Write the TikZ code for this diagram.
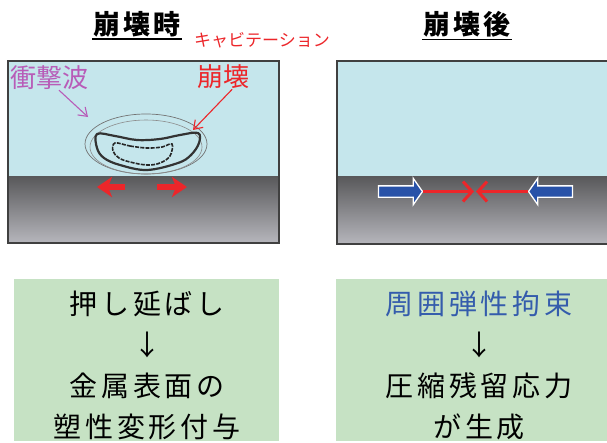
\documentclass[tikz,border=0pt]{standalone}
\usepackage{fontspec}
\setmainfont{Noto Sans CJK JP}
\newfontfamily\widejp[LetterSpace=14]{Noto Sans CJK JP}
\newfontfamily\titlejp[LetterSpace=12]{Noto Sans CJK JP}
\usetikzlibrary{positioning, arrows.meta, shapes.arrows}

\definecolor{water}{RGB}{197,230,236}
\definecolor{steeltop}{RGB}{88,88,90}
\definecolor{steelbot}{RGB}{182,182,188}
\definecolor{boxgreen}{RGB}{198,226,196}
\definecolor{hitred}{RGB}{236,38,42}
\definecolor{wavepurple}{RGB}{184,92,184}
\definecolor{pressblue}{RGB}{40,82,168}
\definecolor{textblue}{RGB}{52,92,172}

\begin{document}
\begin{tikzpicture}[x=1pt, y=-1pt,
    panel/.style={draw=black!75, line width=1.3pt},
    ground/.style={top color=steeltop, bottom color=steelbot},
    title/.style={font=\titlejp\bfseries\fontsize{27}{27}\selectfont, inner sep=1pt},
    summary/.style={align=center, font=\widejp\fontsize{28}{41}\selectfont},
    push/.style={-{Stealth[length=15pt, width=20pt, inset=4pt]}, line width=5.5pt, hitred},
    squeeze/.style={-{Straight Barb[length=9pt, width=20pt, line width=3pt]}, line width=3pt, hitred},
    block/.style={single arrow, fill=pressblue, draw=white, line width=1.3pt,
      minimum height=44pt, inner xsep=0pt, inner ysep=5pt,
      single arrow head extend=7.5pt, single arrow tip angle=110},
    note/.style={-{Straight Barb[length=8pt, width=11pt]}, line width=1.1pt}
  ]
  \useasboundingbox (0,0) rectangle (607,442);
  \clip (0,0) rectangle (607,442);

  % panel: during collapse
  \fill[water] (8,61) rectangle (279,176);
  \shade[ground] (8,176) rectangle (279,243);
  \draw[panel] (8,61) rectangle (279,243);

  % panel: after collapse
  \fill[water] (337,61) rectangle (620,176);
  \shade[ground] (337,176) rectangle (620,244);
  \draw[panel] (337,61) rectangle (620,244);

  % titles
  \node[title] (during) at (137,24) {崩壊時};
  \node[title] (after) at (467,24) {崩壊後};
  \draw[line width=1.4pt] ([yshift=-1pt]during.south west) -- ([yshift=-1pt]during.south east);
  \draw[line width=1.4pt] ([yshift=-1pt]after.south west) -- ([yshift=-1pt]after.south east);

  % shock wave rings
  \draw[black!55, line width=0.7pt] (146,144) ellipse [x radius=61, y radius=30];
  \draw[black!45, line width=0.6pt] (146,147) ellipse [x radius=56, y radius=27];

  % collapsing bubble
  \draw[black!80, line width=2.2pt, line join=round]
    plot[smooth cycle, tension=0.6] coordinates {(97,134) (115,136) (137,140) (160,139) (180,135) (198,133)
      (199,143) (191,155) (178,163) (147,170) (120,165) (104,158) (97,148)};
  \draw[black!85, line width=1.6pt, dash pattern=on 4pt off 1.2pt]
    plot[smooth cycle, tension=0.6] coordinates {(115,143) (130,146) (147,148) (162,147) (172,144)
      (170,156) (160,163) (147,165) (130,162) (119,158) (113,151)};

  % labels
  \node[text=hitred, font=\fontsize{17}{17}\selectfont, inner sep=0pt] (cav) at (262,40) {キャビテーション};
  \node[text=wavepurple, font=\fontsize{26}{26}\selectfont, inner sep=0pt] (wave) at (49,78) {衝撃波};
  \node[text=hitred, font=\fontsize{26}{26}\selectfont, inner sep=0pt] (burst) at (223,77) {崩壊};
  \coordinate (ring) at (88,117);
  \coordinate (rim) at (193,130);
  \draw[note, wavepurple] ([xshift=10pt]wave.south) -- (ring);
  \draw[note, hitred] ([xshift=-17pt]burst.south east) -- (rim);

  % surface being pushed outward
  \coordinate (hit) at (141,187);
  \draw[push] ([xshift=-16pt]hit) -- ++(-28,0);
  \draw[push] ([xshift=16pt]hit) -- ++(30,0);

  % elastic restraint from the surroundings
  \node[block] (bl) at (398.5,191.5) {};
  \node[block, shape border rotate=180] (br) at (552.5,191.5) {};
  \coordinate (meetl) at (474,191.5);
  \coordinate (meetr) at (476,191.5);
  \draw[squeeze] (bl.tip) -- (meetl);
  \draw[squeeze] (br.tip) -- (meetr);

  % summaries
  \fill[boxgreen] (14,279) rectangle (279,441);
  \fill[boxgreen] (336,279) rectangle (620,441);
  \node[summary] (stretch) at (147,365) {押し延ばし\\↓\\金属表面の\\塑性変形付与};
  \node[summary] (residual) at (479,365) {\textcolor{textblue}{周囲弾性拘束}\\↓\\圧縮残留応力\\が生成};
\end{tikzpicture}
\end{document}
